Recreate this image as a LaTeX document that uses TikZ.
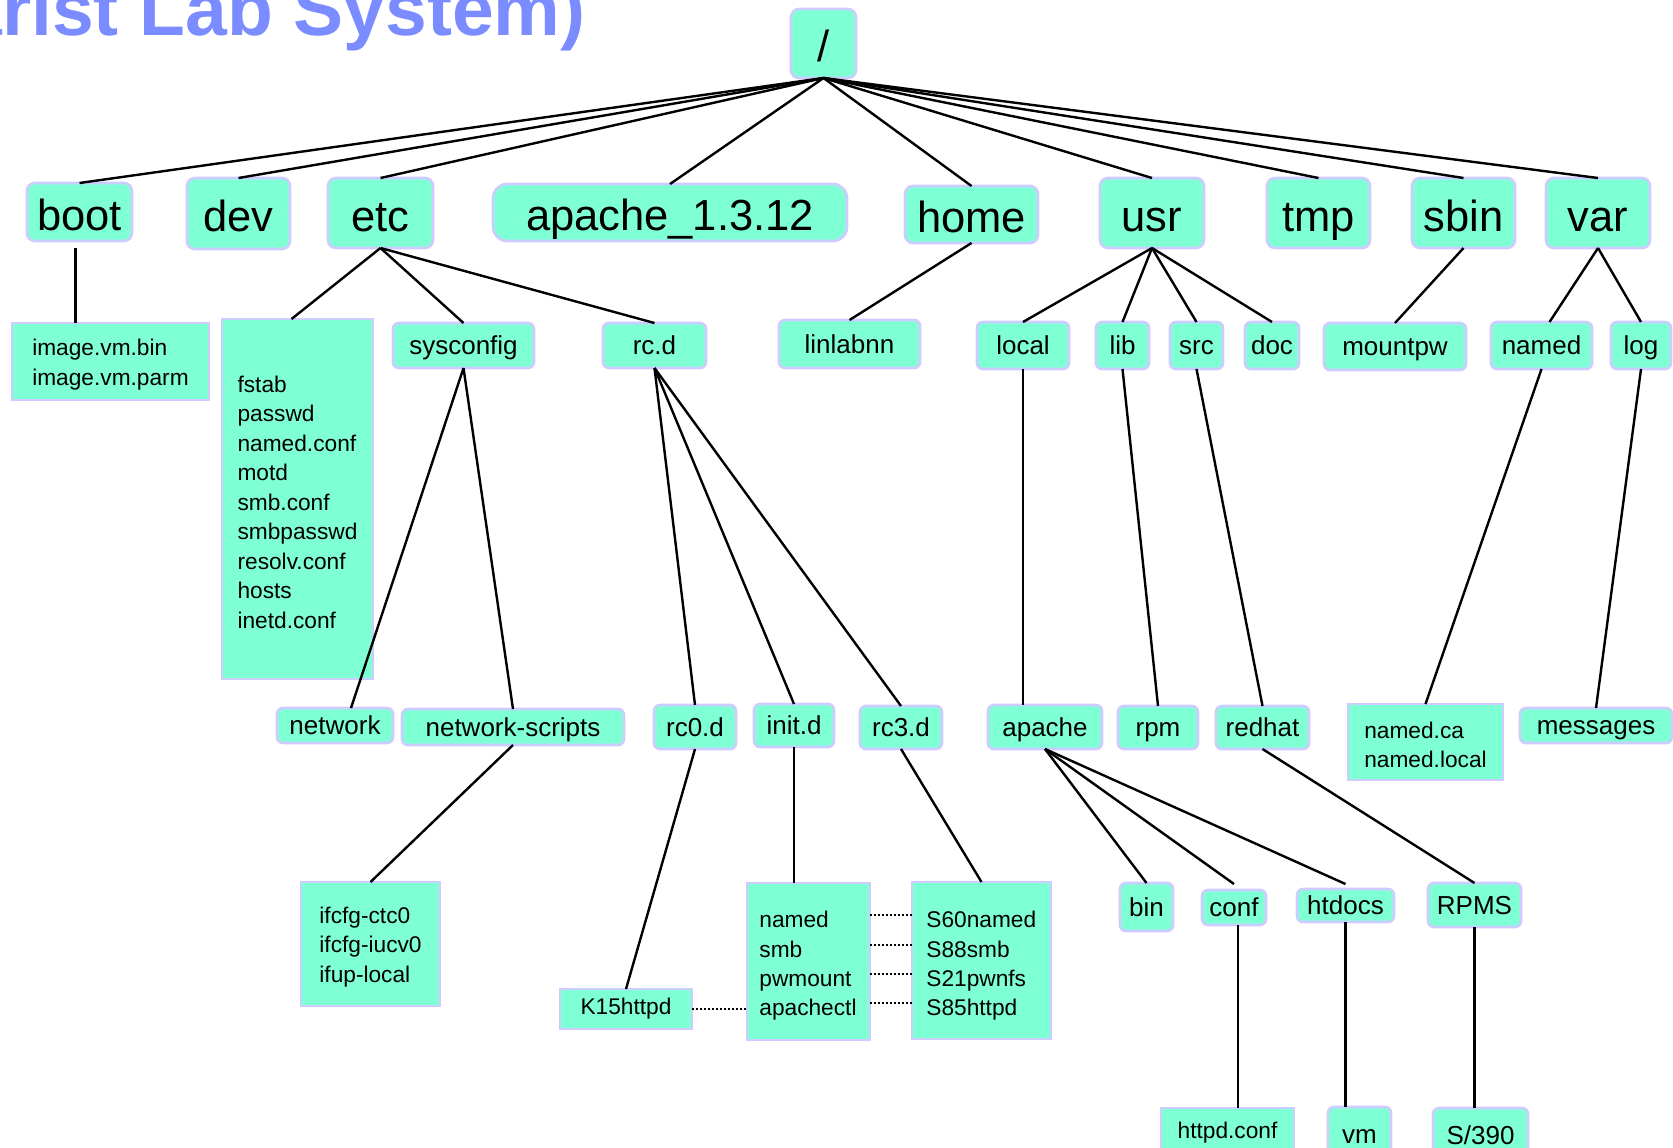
\documentclass[tikz,border=0pt]{standalone}
\usepackage{fontspec}
\setmainfont{Liberation Sans}
\usetikzlibrary{calc}
\definecolor{aqua}{RGB}{127,255,212}
\definecolor{lav}{RGB}{204,204,255}
\definecolor{ttl}{RGB}{122,140,255}
% box node spanning two corners: [style]{name}{x1}{y1}{x2}{y2}{text}
\newcommand\fsnode[7][]{\node[#1,minimum width=(#5-#3)*0.5pt,minimum height=(#6-#4)*0.5pt]
  (#2) at ({(#3+#5)/2},{(#4+#6)/2}) {#7};}
% box with a left-aligned list of file names: [style]{name}{x1}{y1}{x2}{y2}{lines}
\newcommand\fslist[7][]{\node[qbox,#1,minimum width=(#5-#3)*0.5pt,minimum height=(#6-#4)*0.5pt]
  (#2) at ({(#3+#5)/2},{(#4+#6)/2}) {};
  \node[smtxt,align=left,inner sep=0pt] (#2txt) at ($(#2.center)+(0,3)$) {#7};}
\begin{document}
\begin{tikzpicture}[x=0.5pt,y=-0.5pt,
  qbox/.style={draw=lav,fill=aqua,line width=1.3pt,inner sep=0pt,outer sep=0pt},
  rbox/.style={qbox,rounded corners=3pt},
  topbox/.style={qbox,rounded corners=4pt,lgtxt},
  lgtxt/.style={font=\fontsize{21.75}{26}\selectfont,text height=18pt,text depth=0pt},
  mdtxt/.style={font=\fontsize{13}{16}\selectfont,text height=9.1pt,text depth=0pt},
  smtxt/.style={font=\fontsize{11.35}{14.75}\selectfont},
  edgeln/.style={line width=1.2pt},
  dotln/.style={line width=1.2pt,dash pattern=on 1.1pt off 0.9pt}]
\useasboundingbox (0,0) rectangle (1673,1147);

% heading
\node[anchor=base east,text=ttl,font=\fontsize{37.5}{42}\selectfont\bfseries,inner sep=0pt]
  (title) at (586,35) {(Marist Lab System)};

% root and first level
\fsnode[topbox]{root}{791}{9}{856}{78}{/}
\fsnode[topbox]{boot}{27}{183}{132}{241}{boot}
\fsnode[topbox]{dev}{187}{178}{290}{249}{dev}
\fsnode[topbox]{etc}{328}{178}{433}{248}{etc}
\fsnode[topbox,rounded corners=7pt]{apver}{493}{184}{847}{241}{apache\_1.3.12}
\fsnode[topbox]{home}{905}{186}{1038}{243}{home}
\fsnode[topbox]{usr}{1100}{178}{1204}{248}{usr}
\fsnode[topbox]{tmp}{1267}{178}{1370}{248}{tmp}
\fsnode[topbox]{sbin}{1412}{178}{1515}{248}{sbin}
\fsnode[topbox]{var}{1546}{178}{1650}{248}{var}

% second level
\fslist{img}{12}{323}{209}{400}{image.vm.bin\\image.vm.parm}
\fslist{etcfiles}{222}{319}{373}{679}{fstab\\passwd\\named.conf\\motd\\smb.conf\\smbpasswd\\resolv.conf\\hosts\\inetd.conf}
\fsnode[rbox,mdtxt]{sysconfig}{393}{323}{534}{368}{sysconfig}
\fsnode[rbox,mdtxt]{rcd}{603}{323}{706}{368}{rc.d}
\fsnode[rbox,mdtxt]{linlabnn}{779}{320}{920}{368}{linlabnn}
\fsnode[rbox,mdtxt]{local}{977}{322}{1069}{369}{local}
\fsnode[rbox,mdtxt]{lib}{1096}{322}{1149}{369}{lib}
\fsnode[rbox,mdtxt]{src}{1170}{322}{1223}{369}{src}
\fsnode[rbox,mdtxt]{doc}{1245}{322}{1299}{369}{doc}
\fsnode[rbox,mdtxt]{mountpw}{1324}{323}{1466}{370}{mountpw}
\fsnode[rbox,mdtxt]{named}{1491}{322}{1592}{369}{named}
\fsnode[rbox,mdtxt]{log}{1611}{322}{1671}{369}{log}

% third level
\fsnode[rbox,mdtxt]{network}{277}{708}{393}{743}{network}
\fsnode[rbox,mdtxt]{netscripts}{402}{709}{624}{745}{network-scripts}
\fsnode[rbox,mdtxt]{rczero}{654}{705}{736}{749}{rc0.d}
\fsnode[rbox,mdtxt]{initd}{754}{704}{834}{747}{init.d}
\fsnode[rbox,mdtxt]{rcthree}{860}{706}{942}{749}{rc3.d}
\fsnode[rbox,mdtxt]{apache}{988}{705}{1102}{749}{apache}
\fsnode[rbox,mdtxt]{rpm}{1118}{706}{1198}{749}{rpm}
\fsnode[rbox,mdtxt]{redhat}{1216}{706}{1309}{749}{redhat}
\fslist{namedca}{1348}{704}{1503}{780}{named.ca\\named.local}
\fsnode[rbox,mdtxt]{messages}{1520}{708}{1672}{743}{messages}

% fourth level
\fslist{ifcfg}{301}{882}{440}{1006}{ifcfg-ctc0\\ifcfg-iucv0\\ifup-local}
\fsnode[qbox,smtxt]{kfifteen}{560}{989}{692}{1029}{K15httpd}
\fsnode[qbox]{nbox}{747}{883}{870}{1040}{}
\fsnode[qbox]{sbox}{912}{882}{1051}{1039}{}
\fsnode[rbox,mdtxt]{bin}{1120}{883}{1173}{931}{bin}
\fsnode[rbox,mdtxt]{conf}{1202}{890}{1266}{925}{conf}
\fsnode[rbox,mdtxt]{htdocs}{1297}{889}{1394}{922}{htdocs}
\fsnode[rbox,mdtxt]{rpms}{1428}{883}{1521}{927}{RPMS}

% fifth level
\fsnode[qbox,smtxt]{httpdconf}{1161}{1108}{1294}{1158}{httpd.conf}
\fsnode[rbox,mdtxt]{vm}{1328}{1107}{1391}{1162}{vm}
\fsnode[rbox,mdtxt]{sysz}{1433}{1108}{1528}{1162}{S/390}

% init scripts and their run-level links
\foreach \i/\y/\a/\b in {1/927/named/S60named,2/957/smb/S88smb,3/986/pwmount/S21pwnfs,4/1015/apachectl/S85httpd}{
  \node[smtxt,anchor=base west,inner sep=0pt] (n\i) at (759,\y) {\a};
  \node[smtxt,anchor=base west,inner sep=0pt] (s\i) at (926,\y) {\b};
}

% tree connectors
\foreach \c in {boot,dev,etc,apver,home,usr,tmp,sbin,var}
  \draw[edgeln] (root.south) -- (\c.north);
\draw[edgeln] ($(boot.south)+(-4,7)$) -- ($(boot.south |- img.north)+(-4,0)$);
\draw[edgeln] (etc.south) -- ($(etcfiles.north)+(-6,0)$);
\draw[edgeln] (etc.south) -- (sysconfig.north);
\draw[edgeln] (etc.south) -- (rcd.north);
\draw[edgeln] (sysconfig.south) -- ($(network.north)+(16,0)$);
\draw[edgeln] (sysconfig.south) -- (netscripts.north);
\foreach \c in {rczero,initd,rcthree}
  \draw[edgeln] (rcd.south) -- (\c.north);
\draw[edgeln] (home.south) -- (linlabnn.north);
\foreach \c in {local,lib,src,doc}
  \draw[edgeln] (usr.south) -- (\c.north);
\draw[edgeln] (sbin.south) -- (mountpw.north);
\draw[edgeln] (var.south) -- ($(named.north)+(8,0)$);
\draw[edgeln] (var.south) -- (log.north);
\draw[edgeln] (netscripts.south) -- (ifcfg.north);
\draw[edgeln] (rczero.south) -- (kfifteen.north);
\draw[edgeln] (initd.south) -- (initd.south |- nbox.north);
\draw[edgeln] (rcthree.south) -- (sbox.north);
\draw[edgeln] (local.south) -- (local.south |- apache.north);
\draw[edgeln] (lib.south) -- (rpm.north);
\draw[edgeln] (src.south) -- (redhat.north);
\draw[edgeln] (named.south) -- (namedca.north);
\draw[edgeln] (log.south) -- (messages.north);
\draw[edgeln] (apache.south) -- (bin.north);
\draw[edgeln] (apache.south) -- ($(conf.north)+(0,-6)$);
\draw[edgeln] (apache.south) -- ($(htdocs.north)+(0,-5)$);
\draw[edgeln] (redhat.south) -- (rpms.north);
\draw[edgeln] ($(conf.south)+(4,0)$) -- ($(conf.south |- httpdconf.north)+(4,0)$);
\draw[edgeln] (htdocs.south) -- (htdocs.south |- vm.north);
\draw[edgeln] (rpms.south) -- (rpms.south |- sysz.north);

% dotted links
\draw[dotln] (kfifteen.east) -- (nbox.west |- kfifteen.east);
\foreach \i in {1,2,3,4}
  \draw[dotln] ($(nbox.east |- n\i.base)+(0,-12)$) -- ($(sbox.west |- s\i.base)+(0,-12)$);
\end{tikzpicture}
\end{document}
